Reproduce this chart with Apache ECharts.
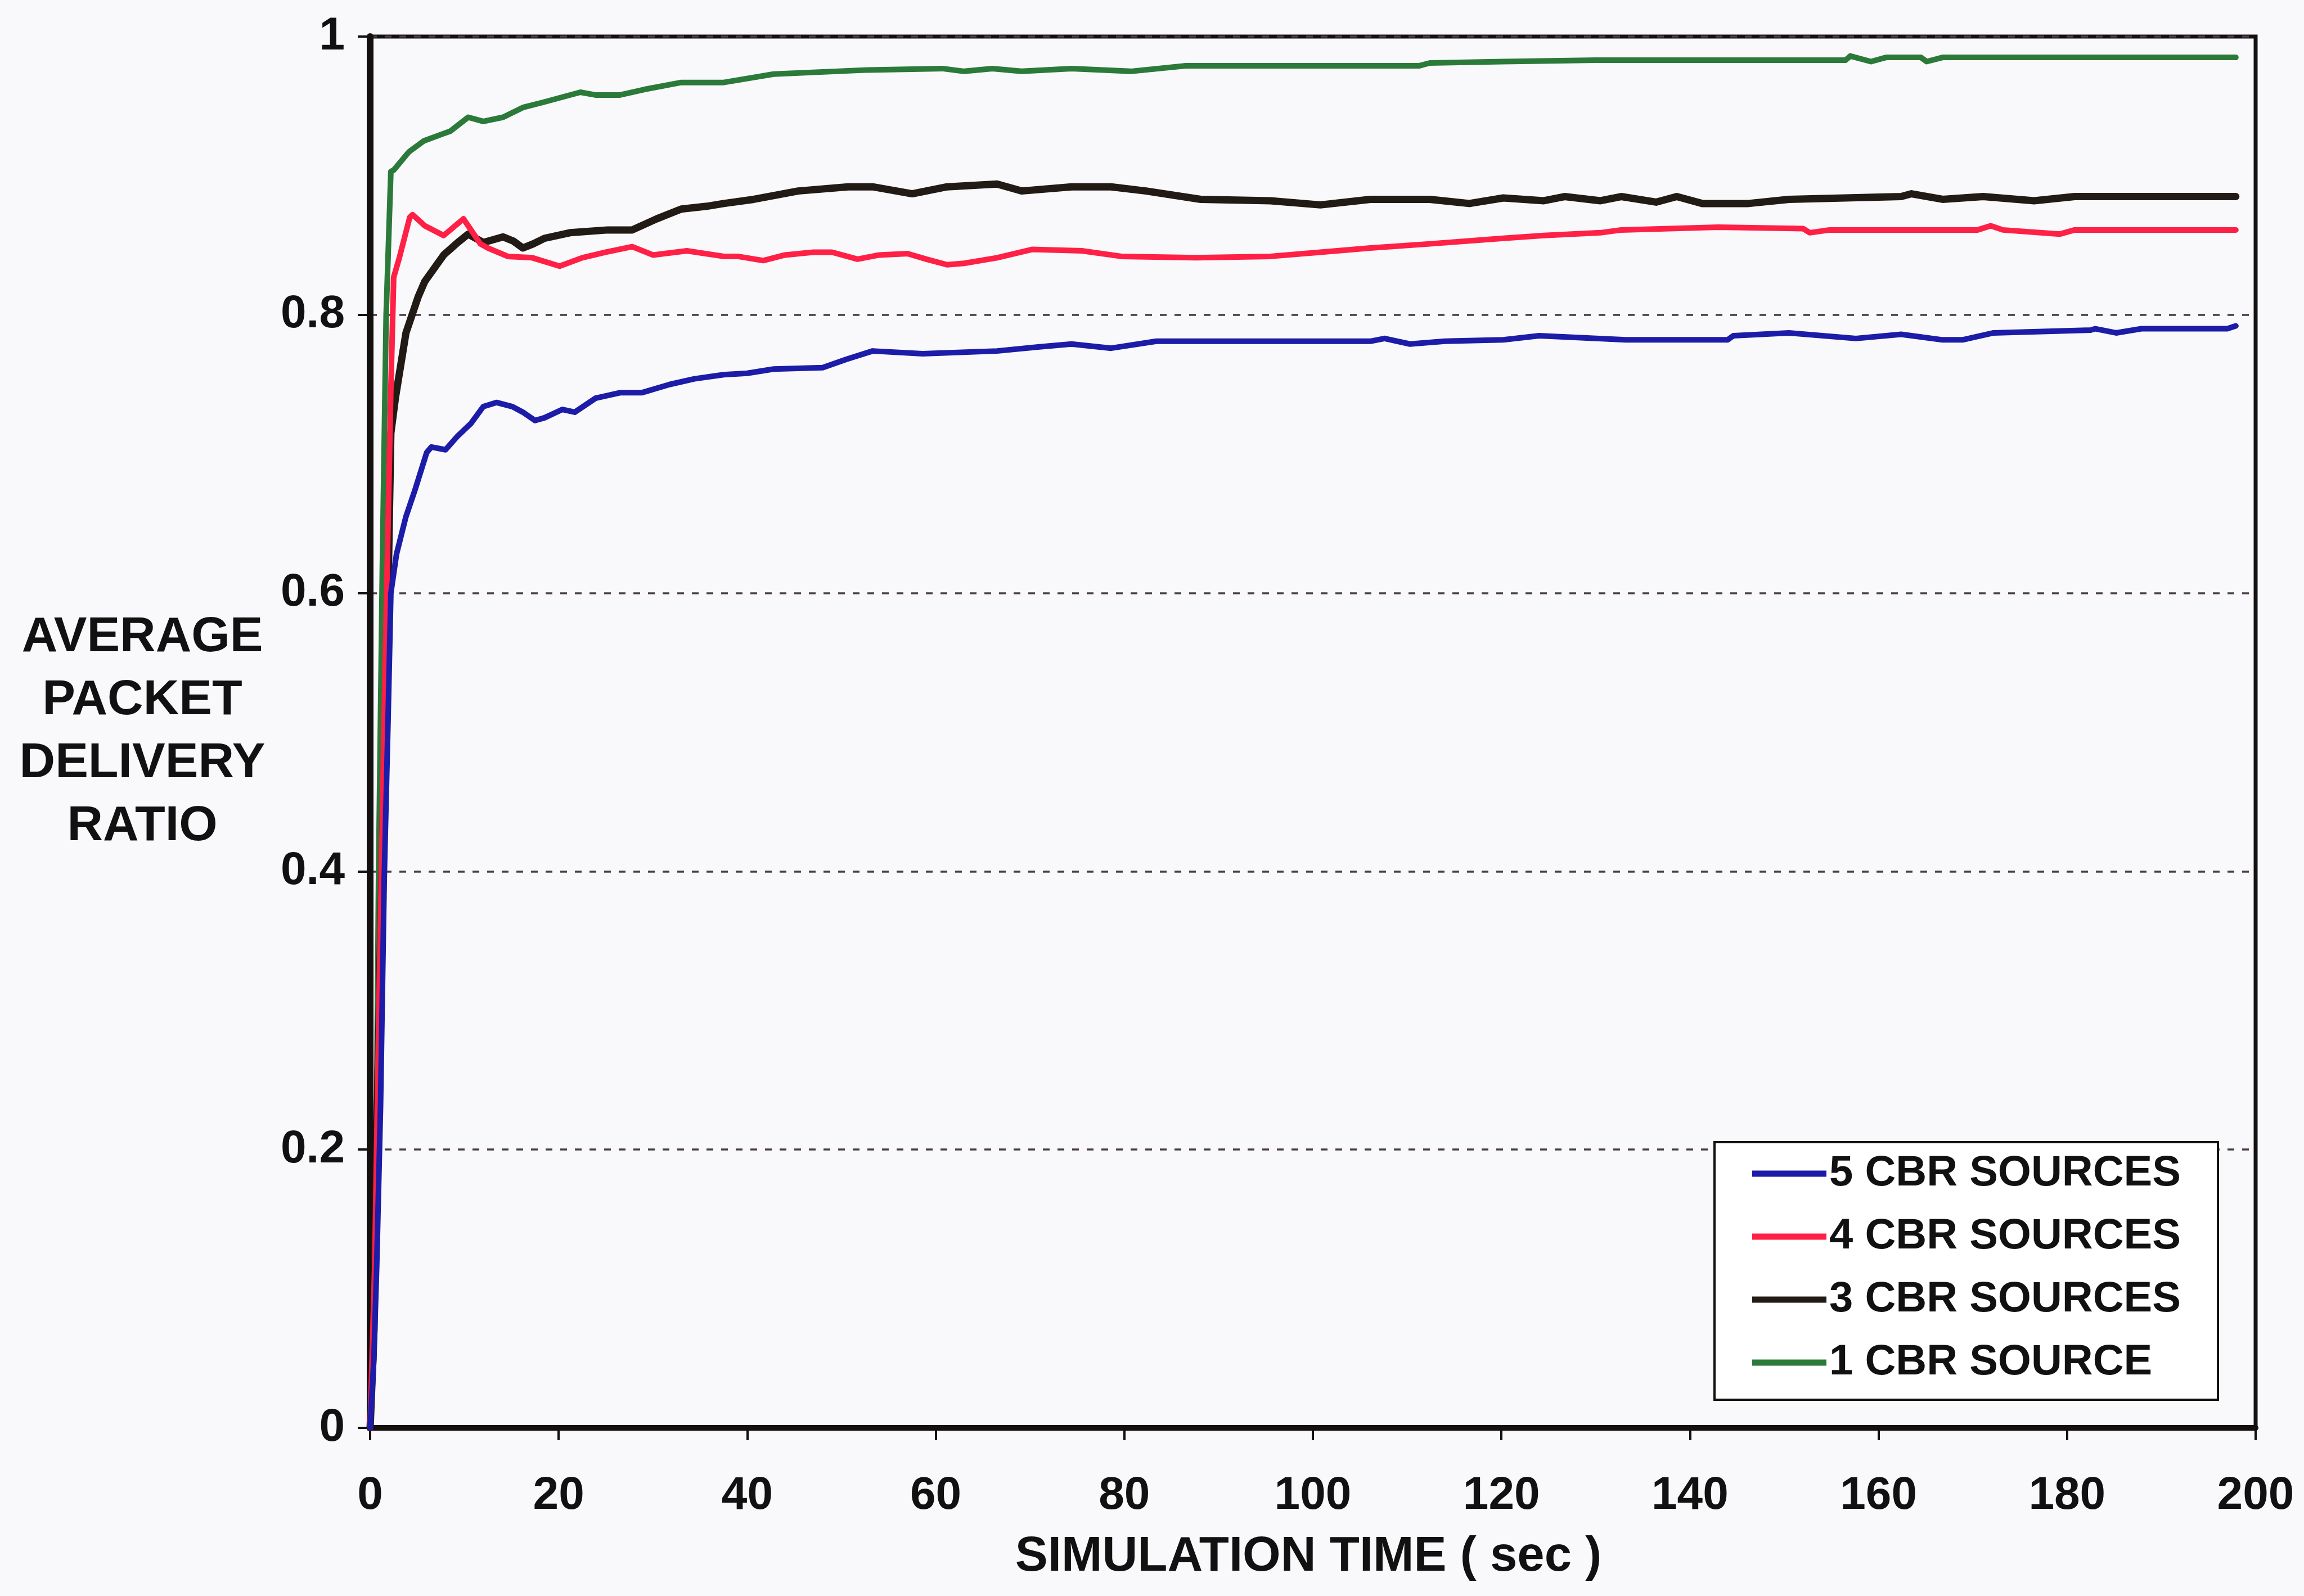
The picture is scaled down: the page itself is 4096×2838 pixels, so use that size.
<!DOCTYPE html>
<html>
<head>
<meta charset="utf-8">
<title>Average Packet Delivery Ratio</title>
<script src="https://cdn.jsdelivr.net/npm/echarts@6/dist/echarts.min.js"></script>
<style>
  html, body { margin: 0; padding: 0; background: #f9f9fc; }
  #chart { width: 4096px; height: 2838px; }
</style>
</head>
<body>
<div id="chart"></div>
<script>
// Simulation time (sec) vs. average packet delivery ratio, one [time, ratio] list per traffic load
const fiveSources = [
  [0, 0], [0.4, 0.05], [0.7, 0.117], [1.1, 0.23], [1.5, 0.396], [1.9, 0.508], [2.2, 0.60],
  [2.8, 0.628], [3.8, 0.655], [4.8, 0.675], [6, 0.701], [6.5, 0.705], [8, 0.703], [9.3, 0.713],
  [10.7, 0.722], [12, 0.734], [13.4, 0.737], [15.1, 0.734], [16.2, 0.730], [17.5, 0.724],
  [18.5, 0.726], [20.4, 0.732], [21.7, 0.730], [23.9, 0.740], [26.5, 0.744], [28.8, 0.744],
  [31.8, 0.750], [34.4, 0.754], [37.5, 0.757], [40, 0.758], [42.8, 0.761], [48, 0.762],
  [50.5, 0.768], [53.3, 0.774], [58.6, 0.772], [66.5, 0.774], [71, 0.777], [74.4, 0.779],
  [78.6, 0.776], [83.4, 0.781], [106.1, 0.781], [107.6, 0.783], [110.3, 0.779], [114, 0.781],
  [120.2, 0.782], [124, 0.785], [133.2, 0.782], [144, 0.782], [144.6, 0.785], [150.5, 0.787],
  [157.6, 0.783], [162.4, 0.786], [166.8, 0.782], [168.9, 0.782], [172.2, 0.787], [182.5, 0.789],
  [183, 0.790], [185.2, 0.787], [187.9, 0.790], [197, 0.790], [197.9, 0.792]
];

const fourSources = [
  [0, 0], [0.5, 0.12], [1, 0.33], [1.6, 0.55], [2.2, 0.747], [2.5, 0.827], [3.1, 0.841],
  [4.2, 0.870], [4.5, 0.872], [5.8, 0.864], [7.8, 0.857], [9.9, 0.869], [11.7, 0.851],
  [12.5, 0.848], [14.6, 0.842], [17.2, 0.841], [20.1, 0.835], [22.5, 0.841], [25, 0.845],
  [27.8, 0.849], [30, 0.843], [33.6, 0.846], [37.5, 0.842], [39, 0.842], [41.7, 0.839],
  [44, 0.843], [47, 0.845], [49, 0.845], [51.7, 0.840], [54, 0.843], [57, 0.844], [59, 0.840],
  [61.2, 0.836], [63, 0.837], [66.5, 0.841], [70.2, 0.847], [75.5, 0.846], [79.7, 0.842],
  [87.6, 0.841], [95.5, 0.842], [100.8, 0.845], [106.1, 0.848], [112.4, 0.851], [120.2, 0.855],
  [124.5, 0.857], [130.5, 0.859], [132.7, 0.861], [143, 0.863], [152, 0.862], [152.7, 0.859],
  [154.8, 0.861], [170.5, 0.861], [171.9, 0.864], [173.2, 0.861], [179.2, 0.858], [180.8, 0.861],
  [197.9, 0.861]
];

const threeSources = [
  [0, 0], [0.3, 0.05], [1.06, 0.336], [1.8, 0.562], [2.2, 0.715], [2.7, 0.741], [3.8, 0.787],
  [5.1, 0.813], [5.8, 0.824], [7.8, 0.843], [9.3, 0.852], [10.4, 0.858], [12, 0.852],
  [14.1, 0.856], [15.2, 0.853], [16.2, 0.848], [17.3, 0.851], [18.5, 0.855], [21.2, 0.859],
  [25.2, 0.861], [27.8, 0.861], [30.4, 0.869], [33, 0.876], [35.7, 0.878], [37.5, 0.880],
  [40.7, 0.883], [45.4, 0.889], [50.7, 0.892], [53.3, 0.892], [57.5, 0.887], [61.2, 0.892],
  [66.5, 0.894], [69.1, 0.889], [74.4, 0.892], [78.6, 0.892], [82.3, 0.889], [88.1, 0.883],
  [95.5, 0.882], [100.8, 0.879], [106.1, 0.883], [112.4, 0.883], [116.6, 0.880], [120.2, 0.884],
  [124.5, 0.882], [126.7, 0.885], [130.5, 0.882], [132.7, 0.885], [136.4, 0.881], [138.6, 0.885],
  [141.3, 0.880], [146.2, 0.880], [150.5, 0.883], [162.4, 0.885], [163.5, 0.887], [166.8, 0.883],
  [171.1, 0.885], [176.5, 0.882], [180.8, 0.885], [197.9, 0.885]
];

const oneSource = [
  [0, 0], [0.5, 0.07], [0.9, 0.4], [1.3, 0.62], [1.7, 0.8], [2.2, 0.903], [2.5, 0.904],
  [4.1, 0.917], [5.7, 0.925], [7.7, 0.930], [8.5, 0.932], [10.4, 0.942], [12, 0.939],
  [14.1, 0.942], [16.2, 0.949], [18.5, 0.953], [22.3, 0.960], [23.9, 0.958], [26.5, 0.958],
  [29.1, 0.962], [33, 0.967], [37.5, 0.967], [42.8, 0.973], [52.8, 0.976], [60.7, 0.977],
  [63, 0.975], [66, 0.977], [69.1, 0.975], [74.4, 0.977], [80.7, 0.975], [86.5, 0.979],
  [111.3, 0.979], [112.4, 0.981], [120.2, 0.982], [130, 0.983], [156.5, 0.983], [157, 0.986],
  [159.2, 0.982], [160.8, 0.985], [164.5, 0.985], [165.1, 0.982], [166.8, 0.985], [197.9, 0.985]
];

const seriesNames = ['5 CBR SOURCES', '4 CBR SOURCES', '3 CBR SOURCES', '1 CBR SOURCE'];
const seriesColors = ['#1c1ca8', '#ff2046', '#221a14', '#2b7a3a'];
const seriesData = [fiveSources, fourSources, threeSources, oneSource];

const xTicks = { min: 0, max: 200, interval: 20 };
const yTicks = { min: 0, max: 1, interval: 0.2 };
const xTitle = 'SIMULATION TIME ( sec )';
const yTitle = 'AVERAGE\nPACKET\nDELIVERY\nRATIO';

const FONT = '"Liberation Sans", Arial, sans-serif';
const INK = '#141010';

const chart = echarts.init(document.getElementById('chart'), null, { renderer: 'canvas' });

chart.setOption({
  backgroundColor: '#f9f9fc',
  animation: false,
  textStyle: { fontFamily: FONT },
  grid: {
    left: 658, right: 86, top: 65, bottom: 299,
    containLabel: false,
    outerBoundsMode: 'none',
    show: true, borderColor: INK, borderWidth: 7, backgroundColor: 'transparent'
  },
  legend: {
    orient: 'vertical',
    left: 3048, top: 2031,
    data: seriesNames,
    icon: 'rect',
    itemWidth: 132, itemHeight: 11, itemGap: 32,
    padding: [16, 66, 26, 67],
    backgroundColor: '#ffffff',
    borderColor: INK, borderWidth: 4,
    textStyle: { fontFamily: FONT, fontSize: 76, fontWeight: 'bold', color: '#111', lineHeight: 80 }
  },
  // x-axis title, centred under the plot
  graphic: [{
    type: 'text',
    x: 2326, y: 2769,
    silent: true,
    style: {
      text: xTitle,
      fill: '#111',
      fontFamily: FONT, fontSize: 87, fontWeight: 'bold',
      align: 'center', verticalAlign: 'middle'
    }
  }],
  xAxis: {
    type: 'value',
    min: xTicks.min, max: xTicks.max, interval: xTicks.interval,
    axisLine: { show: true, lineStyle: { color: INK, width: 10 } },
    axisTick: { show: true, inside: false, length: 22, lineStyle: { color: INK, width: 4 } },
    axisLabel: { margin: 80, fontFamily: FONT, fontSize: 82, fontWeight: 'bold', color: '#111' },
    splitLine: { show: false }
  },
  yAxis: {
    type: 'value',
    min: yTicks.min, max: yTicks.max, interval: yTicks.interval,
    name: yTitle,
    nameLocation: 'middle', nameRotate: 0, nameGap: 405, nameMoveOverlap: false,
    nameTextStyle: { fontFamily: FONT, fontSize: 88, fontWeight: 'bold', color: '#111', lineHeight: 112, align: 'center' },
    axisLine: { show: true, lineStyle: { color: INK, width: 12 } },
    axisTick: { show: true, inside: false, length: 22, lineStyle: { color: INK, width: 4 } },
    axisLabel: { margin: 45, fontFamily: FONT, fontSize: 82, fontWeight: 'bold', color: '#111' },
    splitLine: { show: true, lineStyle: { type: [12, 14], width: 3.5, color: '#4b3d4b' } }
  },
  series: seriesNames.map((name, i) => ({
    name,
    type: 'line',
    data: seriesData[i],
    showSymbol: false,
    symbol: 'none',
    color: seriesColors[i],
    lineStyle: { color: seriesColors[i], width: i === 2 ? 13 : 10, join: 'round', cap: 'round' },
    z: 4 - i
  }))
});
</script>
</body>
</html>
